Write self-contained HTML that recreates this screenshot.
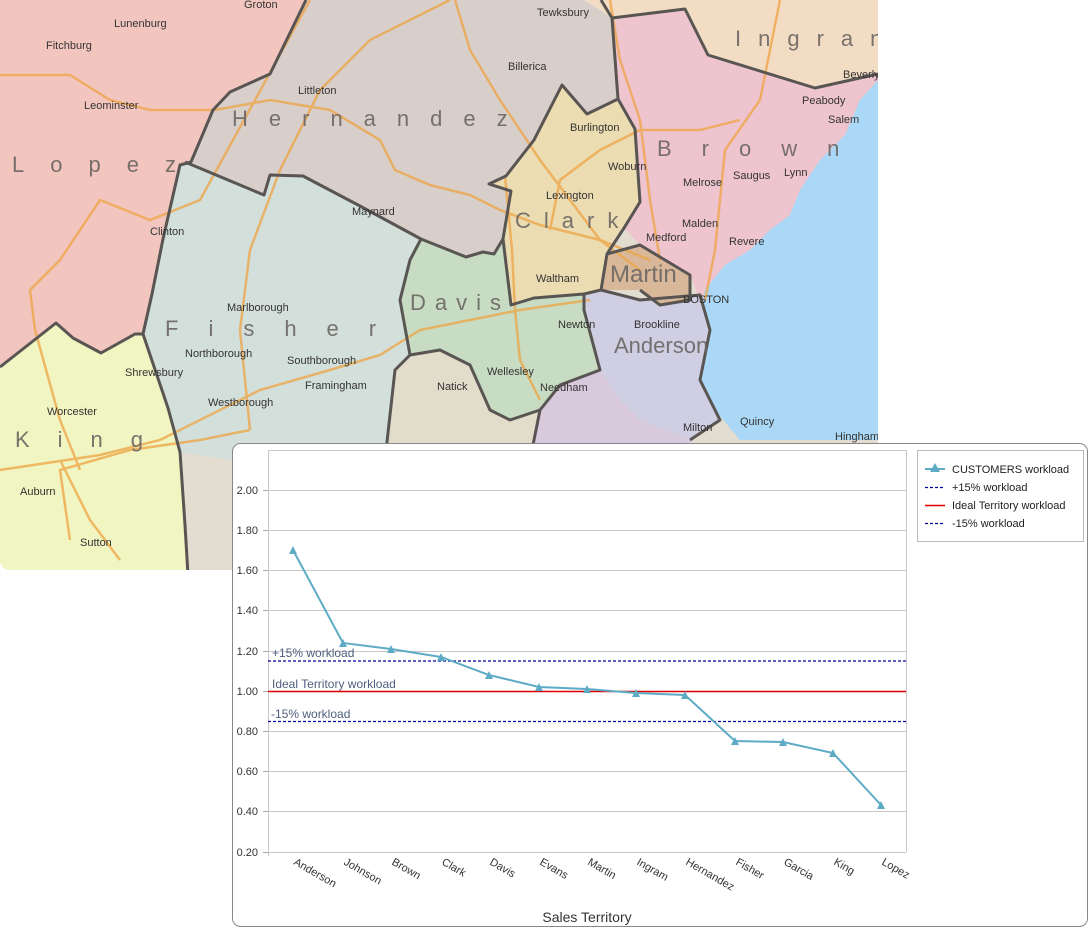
<!DOCTYPE html>
<html><head><meta charset="utf-8"><style>
html,body{margin:0;padding:0;background:#fff;width:1091px;height:929px;overflow:hidden;font-family:"Liberation Sans",sans-serif}
svg{position:absolute;left:0;top:0}
</style></head><body>
<svg width="1091" height="929" viewBox="0 0 1091 929" xmlns="http://www.w3.org/2000/svg">
<defs><clipPath id="mc"><rect x="0" y="-12" width="878" height="582" rx="10"/></clipPath></defs>
<g clip-path="url(#mc)">
<rect x="0" y="0" width="878" height="570" fill="#e2ddd0"/>
<polygon points="584,0 878,0 878,74 815,88 708,55 685,9 612,18" fill="#f3dcc4"/>
<polygon points="612,18 685,9 708,55 815,88 878,74 878,300 700,300 690,275 665,260 640,245 624,228 640,202 635,129 618,99" fill="#eec4cf"/>
<polygon points="878,80 860,100 845,135 820,160 800,190 790,215 770,230 750,250 725,265 705,290 695,330 700,380 715,410 740,440 878,440" fill="#aad8f6"/>
<polygon points="0,0 306,0 270,74 230,92 213,110 191,162 180,165 163,239 152,294 143,334 135,334 101,353 73,338 56,323 0,367" fill="#f2c6bf"/>
<polygon points="0,367 56,323 73,338 101,353 135,334 143,334 168,408 180,452 185,525 188,575 0,575" fill="#f1f5c2"/>
<polygon points="306,0 584,0 612,18 618,99 587,114 562,85 534,140 506,176 489,184 511,191 503,239 494,254 483,252 466,257 421,239 360,206 303,176 270,175 264,195 185,162 191,162 213,110 230,92 270,74" fill="#d8cfcb"/>
<polygon points="562,85 587,114 618,99 635,129 640,202 624,228 607,254 601,290 584,294 534,298 511,305 503,239 511,191 489,184 506,176 534,140" fill="#ecdcb2"/>
<polygon points="185,162 264,195 270,175 303,176 360,206 421,239 410,260 400,300 410,355 395,370 385,460 232,460 180,452 168,408 143,334 152,294 163,239 180,165" fill="#d3dfda"/>
<polygon points="410,355 440,350 470,365 490,410 510,420 540,410 530,460 385,460 395,370" fill="#e2dccb"/>
<polygon points="421,239 466,257 483,252 494,254 503,239 511,305 534,298 584,294 584,310 600,370 560,385 540,410 510,420 490,410 470,365 440,350 410,355 400,300 410,260" fill="#c7dcc2"/>
<polygon points="560,385 600,370 620,400 640,420 690,440 700,460 530,460 540,410" fill="#d9c9dc"/>
<polygon points="584,294 601,290 640,300 700,295 710,330 700,380 720,420 690,440 640,420 620,400 600,370 584,310" fill="#d0cee2"/>
<polygon points="607,254 640,245 665,260 690,275 690,300 660,305 640,290 601,290" fill="#d9b899"/>
<g fill="none" stroke="#eea444" stroke-width="2.5" opacity="0.75">
<polyline points="0,75 70,75 110,100 150,110 215,110 270,100 330,110 380,140 395,170 430,185 470,195 500,210 540,225 600,240 650,260"/>
<polyline points="450,0 370,40 320,90 280,170 250,250 240,330 250,430"/>
<polyline points="310,0 200,200 150,220 100,200 60,260 30,290 35,330 60,420 80,470"/>
<polyline points="0,470 100,455 160,440 260,390 330,370 380,355 420,330 470,320 520,310 590,300"/>
<polyline points="455,0 470,50 500,100 540,160 570,200 600,240 640,270"/>
<polyline points="610,0 620,60 640,120 650,200 660,260"/>
<polyline points="780,0 760,100 725,150 715,250 705,300"/>
<polyline points="550,230 560,180 600,150 640,130 700,130 740,120"/>
<polyline points="505,175 512,250 515,310 520,360 540,400"/>
<polyline points="70,540 60,470 130,450 200,440 250,430"/>
<polyline points="60,460 90,520 120,560"/>
</g>
<g fill="none" stroke="#595553" stroke-width="3" stroke-linejoin="round">
<polyline points="306,0 270,74 230,92 213,110 191,162 180,165 163,239 152,294 143,334 168,408 180,452 185,525 188,575"/>
<polyline points="0,367 56,323 73,338 101,353 135,334 143,334"/>
<polyline points="185,162 264,195 270,175 303,176 360,206 421,239 466,257 483,252 494,254 503,239 511,191 489,184 506,176 534,140 562,85 587,114 618,99 612,18 601,0"/>
<polyline points="612,18 685,9 708,55 815,88 878,74"/>
<polyline points="618,99 635,129 640,202 624,228 607,254 601,290 584,294 534,298 511,305 503,239"/>
<polyline points="421,239 410,260 400,300 410,355 395,370 385,460"/>
<polyline points="410,355 440,350 470,365 490,410 510,420 540,410 560,385 600,370 584,310 584,294"/>
<polyline points="540,410 530,460"/>
<polyline points="601,290 640,300 700,295 710,330 700,380 720,420 690,440"/>
<polyline points="607,254 640,245 665,260 690,275 690,300 660,305 640,290"/>
</g>
<g fill="#6b6663" font-size="22" opacity="0.9">
<text x="232" y="126" letter-spacing="21">Hernandez</text>
<text x="12" y="172" letter-spacing="26">Lopez</text>
<text x="657" y="156" letter-spacing="30">Brown</text>
<text x="735" y="46" letter-spacing="17">Ingram</text>
<text x="515" y="228" letter-spacing="13">Clark</text>
<text x="610" y="282" font-size="24">Martin</text>
<text x="410" y="310" letter-spacing="9">Davis</text>
<text x="165" y="336" letter-spacing="30">Fisher</text>
<text x="614" y="353">Anderson</text>
<text x="15" y="447" letter-spacing="28">King</text>
</g>
<g fill="#333" font-size="11">
<text x="244" y="8">Groton</text><text x="114" y="27">Lunenburg</text><text x="46" y="49">Fitchburg</text>
<text x="84" y="109">Leominster</text><text x="150" y="235">Clinton</text><text x="298" y="94">Littleton</text>
<text x="537" y="16">Tewksbury</text><text x="508" y="70">Billerica</text><text x="352" y="215">Maynard</text>
<text x="570" y="131">Burlington</text><text x="608" y="170">Woburn</text><text x="546" y="199">Lexington</text>
<text x="536" y="282">Waltham</text><text x="558" y="328">Newton</text><text x="634" y="328">Brookline</text>
<text x="683" y="303">BOSTON</text><text x="646" y="241">Medford</text><text x="682" y="227">Malden</text>
<text x="683" y="186">Melrose</text><text x="733" y="179">Saugus</text><text x="784" y="176">Lynn</text>
<text x="729" y="245">Revere</text><text x="802" y="104">Peabody</text><text x="828" y="123">Salem</text>
<text x="843" y="78">Beverly</text><text x="227" y="311">Marlborough</text><text x="185" y="357">Northborough</text>
<text x="287" y="364">Southborough</text><text x="305" y="389">Framingham</text><text x="208" y="406">Westborough</text>
<text x="437" y="390">Natick</text><text x="487" y="375">Wellesley</text><text x="540" y="391">Needham</text>
<text x="125" y="376">Shrewsbury</text><text x="47" y="415">Worcester</text><text x="20" y="495">Auburn</text>
<text x="80" y="546">Sutton</text><text x="683" y="431">Milton</text><text x="740" y="425">Quincy</text>
<text x="835" y="440">Hingham</text>
</g>
</g>
<rect x="232.5" y="443.5" width="855" height="483" rx="8" fill="#fff" stroke="#888" stroke-width="1"/>
<g stroke="#c8c8c8" stroke-width="1">
<line x1="268" y1="490.5" x2="906" y2="490.5"/><line x1="268" y1="530.5" x2="906" y2="530.5"/>
<line x1="268" y1="570.5" x2="906" y2="570.5"/><line x1="268" y1="610.5" x2="906" y2="610.5"/>
<line x1="268" y1="651.5" x2="906" y2="651.5"/><line x1="268" y1="731.5" x2="906" y2="731.5"/>
<line x1="268" y1="771.5" x2="906" y2="771.5"/><line x1="268" y1="811.5" x2="906" y2="811.5"/>
<line x1="268" y1="852.5" x2="906" y2="852.5"/>
<line x1="268" y1="450.5" x2="906" y2="450.5"/>
<line x1="268.5" y1="450" x2="268.5" y2="856"/><line x1="906.5" y1="450" x2="906.5" y2="852"/>
</g>
<g stroke="#aaa" stroke-width="1">
<line x1="263" y1="490.5" x2="268" y2="490.5"/><line x1="263" y1="530.5" x2="268" y2="530.5"/><line x1="263" y1="570.5" x2="268" y2="570.5"/><line x1="263" y1="610.5" x2="268" y2="610.5"/><line x1="263" y1="651.5" x2="268" y2="651.5"/><line x1="263" y1="691.5" x2="268" y2="691.5"/><line x1="263" y1="731.5" x2="268" y2="731.5"/><line x1="263" y1="771.5" x2="268" y2="771.5"/><line x1="263" y1="811.5" x2="268" y2="811.5"/><line x1="263" y1="852.5" x2="268" y2="852.5"/>
</g>
<g fill="#333" font-size="11" text-anchor="end">
<text x="258" y="494">2.00</text><text x="258" y="534">1.80</text><text x="258" y="574">1.60</text><text x="258" y="614">1.40</text><text x="258" y="655">1.20</text><text x="258" y="695">1.00</text><text x="258" y="735">0.80</text><text x="258" y="775">0.60</text><text x="258" y="815">0.40</text><text x="258" y="856">0.20</text>
</g>
<line x1="268" y1="661" x2="906" y2="661" stroke="#0000a0" stroke-width="1.2" stroke-dasharray="3,2"/>
<line x1="268" y1="691.5" x2="906" y2="691.5" stroke="#e00000" stroke-width="1.5"/>
<line x1="268" y1="721.5" x2="906" y2="721.5" stroke="#0000a0" stroke-width="1.2" stroke-dasharray="3,2"/>
<g fill="#4e5f7e" font-size="12">
<text x="272" y="657">+15% workload</text><text x="272" y="688">Ideal Territory workload</text><text x="271" y="718">-15% workload</text>
</g>
<polyline fill="none" stroke="#5eabc6" stroke-width="2" points="293,550 343,643 391,649 441,657 489,675 539,687 587,689 636,693 685,695 735,741 783,742 833,753 881,805"/>
<g fill="#5eabc6">
<polygon points="293,546 289,554 297,554"/><polygon points="343,639 339,647 347,647"/><polygon points="391,645 387,653 395,653"/><polygon points="441,653 437,661 445,661"/><polygon points="489,671 485,679 493,679"/><polygon points="539,683 535,691 543,691"/><polygon points="587,685 583,693 591,693"/><polygon points="636,689 632,697 640,697"/><polygon points="685,691 681,699 689,699"/><polygon points="735,737 731,745 739,745"/><polygon points="783,738 779,746 787,746"/><polygon points="833,749 829,757 837,757"/><polygon points="881,801 877,809 885,809"/>
</g>
<g fill="#333" font-size="11">
<text transform="translate(293,864) rotate(30)">Anderson</text>
<text transform="translate(343,864) rotate(30)">Johnson</text>
<text transform="translate(391,864) rotate(30)">Brown</text>
<text transform="translate(441,864) rotate(30)">Clark</text>
<text transform="translate(489,864) rotate(30)">Davis</text>
<text transform="translate(539,864) rotate(30)">Evans</text>
<text transform="translate(587,864) rotate(30)">Martin</text>
<text transform="translate(636,864) rotate(30)">Ingram</text>
<text transform="translate(685,864) rotate(30)">Hernandez</text>
<text transform="translate(735,864) rotate(30)">Fisher</text>
<text transform="translate(783,864) rotate(30)">Garcia</text>
<text transform="translate(833,864) rotate(30)">King</text>
<text transform="translate(881,864) rotate(30)">Lopez</text>
</g>
<text x="587" y="922" font-size="14" fill="#333" text-anchor="middle">Sales Territory</text>
<rect x="917.5" y="450.5" width="166" height="91" fill="#fff" stroke="#bbb"/>
<line x1="925" y1="469" x2="945" y2="469" stroke="#5eabc6" stroke-width="2"/>
<polygon points="935,463 930,472 940,472" fill="#5eabc6"/>
<line x1="925" y1="487.5" x2="945" y2="487.5" stroke="#0000a0" stroke-width="1.2" stroke-dasharray="3,2"/>
<line x1="925" y1="505.5" x2="945" y2="505.5" stroke="#e00000" stroke-width="1.5"/>
<line x1="925" y1="523.5" x2="945" y2="523.5" stroke="#0000a0" stroke-width="1.2" stroke-dasharray="3,2"/>
<g font-size="11" fill="#222">
<text x="952" y="473">CUSTOMERS workload</text><text x="952" y="491">+15% workload</text><text x="952" y="509">Ideal Territory workload</text><text x="952" y="527">-15% workload</text>
</g>
</svg>
</body></html>
